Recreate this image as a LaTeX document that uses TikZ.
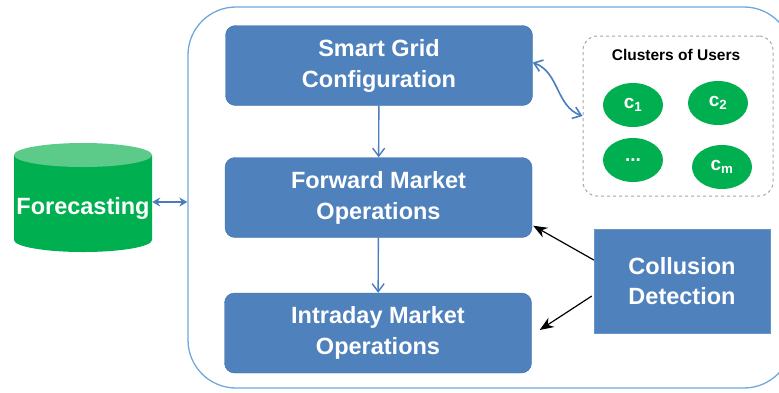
\documentclass[tikz,border=0pt]{standalone}
\usepackage{fontspec}
\setmainfont{Liberation Sans}
\usepackage{tikz}
\usetikzlibrary{arrows.meta,calc,positioning,shapes.geometric}

\definecolor{boxblue}{HTML}{4F81BD}
\definecolor{boxedge}{HTML}{3F6EA6}
\definecolor{lineblue}{HTML}{4A7EBB}
\definecolor{framblue}{HTML}{6FA8DC}
\definecolor{grn}{HTML}{00B050}
\definecolor{grnlight}{HTML}{5CCB8A}

\tikzset{
  opbox/.style={draw=boxedge,fill=boxblue,rounded corners=10pt,text=white,
    font=\fontsize{23.5}{31}\selectfont\bfseries,align=center,
    minimum width=307pt,minimum height=80pt,inner sep=0pt},
  clust/.style={ellipse,fill=grn,text=white,font=\fontsize{19}{22}\selectfont\bfseries,
    minimum width=60pt,minimum height=44pt,inner sep=0pt},
  flow/.style={-{Straight Barb[length=8pt,width=12pt]},lineblue,line width=1.4pt},
  both/.style={{Stealth[length=8pt,width=9pt]}-{Stealth[length=8pt,width=9pt]},lineblue,line width=1.6pt},
  curvy/.style={{Straight Barb[length=8pt,width=12pt]}-{Straight Barb[length=8pt,width=12pt]},lineblue,line width=1.6pt},
  hit/.style={-{Stealth[length=14pt,width=11pt]},black,line width=1.2pt}
}

\begin{document}
\begin{tikzpicture}[x=1pt,y=-1pt]
  \useasboundingbox (0,0) rectangle (779,392);
  % outer frame
  \node[draw=framblue,line width=1.3pt,rounded corners=48pt,
    minimum width=604pt,minimum height=381pt,inner sep=0pt] (frame) at (490,197.5) {};
  % market chain
  \node[opbox] (sgc) at (379,65.5) {Smart Grid\\Configuration};
  \node[opbox] (fmo) at (378.5,197.5) {Forward Market\\Operations};
  \node[opbox] (imo) at (378,333) {Intraday Market\\Operations};
  \draw[flow] (sgc) -- (fmo);
  \draw[flow] (fmo) -- (imo);
  % clusters of users
  \node[draw=gray!70,dashed,line width=1pt,rounded corners=14pt,
    minimum width=190pt,minimum height=160pt,inner sep=0pt] (users) at (678,116) {};
  \node[font=\fontsize{15.5}{18}\selectfont\bfseries] (ttl) at (676,55) {Clusters of Users};
  \node[clust] (c1) at (633,105) {c\textsubscript{1}};
  \node[clust] (c2) at (718,103) {c\textsubscript{2}};
  \node[clust] (cdots) at (633,160) {...};
  \node[clust] (cm) at (722,167) {c\textsubscript{m}};
  \draw[curvy] ($(sgc.east)+(0,-3)$) to[out=-20,in=160] (users.west);
  % forecasting
  \fill[grn] (14,155) -- (14,240) arc[start angle=180,end angle=360,x radius=69pt,y radius=12pt]
    -- (152,155) -- cycle;
  \fill[grnlight] (83,155) ellipse[x radius=69pt,y radius=12pt];
  \node[text=white,font=\fontsize{23.5}{28}\selectfont\bfseries,
    minimum width=138pt,inner sep=0pt] (fcst) at (83,208) {Forecasting};
  \draw[both] ($(fcst.east)+(0,-6)$) -- ($(fcst.east -| frame.west)+(0,-6)$);
  % collusion detection
  \node[draw=boxblue!85!white,fill=boxblue,text=white,font=\fontsize{23.5}{30}\selectfont\bfseries,
    align=center,minimum width=176pt,minimum height=104pt,inner sep=0pt] (coll) at (682,281) {Collusion\\Detection};
  \draw[hit] ($(coll.west)+(0,-21)$) -- ($(fmo.south east)+(1,-12)$);
  \draw[hit] ($(coll.west)+(-2,15)$) -- ($(imo.east)+(8,-3)$);
\end{tikzpicture}
\end{document}
